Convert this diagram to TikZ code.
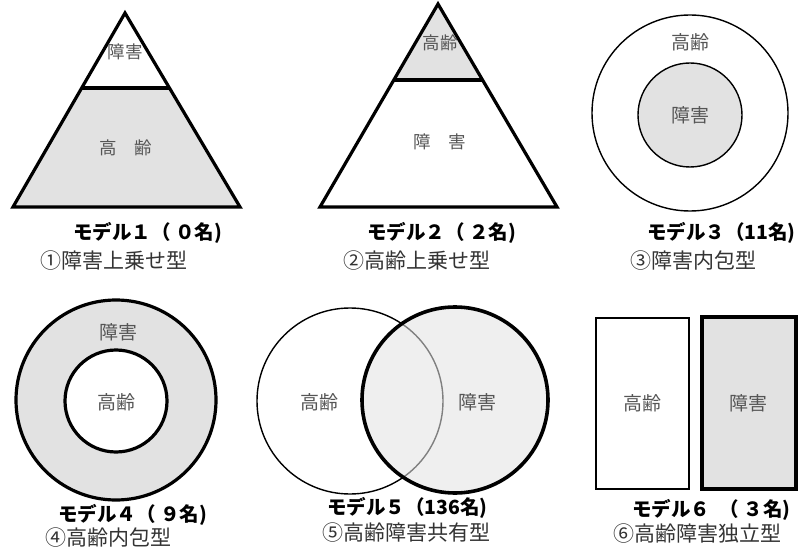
\documentclass[tikz,border=0pt]{standalone}
\usepackage{fontspec}
\usetikzlibrary{calc}
\setmainfont{Noto Sans CJK JP}
\definecolor{fillg}{HTML}{E2E2E2}
\definecolor{filll}{HTML}{EFEFEF}
\definecolor{intext}{HTML}{555555}
\definecolor{subc}{HTML}{333333}
\begin{document}
\begin{tikzpicture}[x=1pt,y=-1pt,
  thickline/.style={line width=3.2pt,line join=miter},
  thinline/.style={line width=1.4pt},
  inlabel/.style={text=intext,font=\fontsize{19}{19}\selectfont,inner sep=0pt},
  trilabel/.style={text=intext,font=\fontsize{17.5}{17.5}\selectfont,inner sep=0pt},
  title/.style={font=\bfseries\fontsize{19.5}{19.5}\selectfont,anchor=west,inner sep=0pt},
  subtitle/.style={font=\fontsize{21}{21}\selectfont,text=subc,anchor=west,inner sep=0pt}]
\useasboundingbox[fill=white] (0,0) rectangle (800,553);
% ---------- Model 1 ----------
\coordinate (a1) at (125,13);
\coordinate (l1) at (13,207);
\coordinate (r1) at (240,207);
\coordinate (dl1) at ($(a1)!0.3866!(l1)$);
\coordinate (dr1) at ($(a1)!0.3866!(r1)$);
\fill[fillg] (dl1) -- (dr1) -- (r1) -- (l1) -- cycle;
\draw[thickline] (a1) -- (r1) -- (l1) -- cycle;
\draw[thickline] (dl1) -- (dr1);
\node[trilabel] (t1a) at (125,52) {障害};
\node[trilabel] (t1b) at (126,148) {高\hspace{1em}齢};
% ---------- Model 2 ----------
\coordinate (a2) at (438,4);
\coordinate (l2) at (320,207);
\coordinate (r2) at (557,207);
\coordinate (dl2) at ($(a2)!0.374!(l2)$);
\coordinate (dr2) at ($(a2)!0.374!(r2)$);
\fill[fillg] (a2) -- (dr2) -- (dl2) -- cycle;
\draw[thickline] (a2) -- (r2) -- (l2) -- cycle;
\draw[thickline] (dl2) -- (dr2);
\node[trilabel] (t2a) at (440,43) {高齢};
\node[trilabel] (t2b) at (440,142) {障\hspace{1em}害};
% ---------- Model 3 ----------
\draw[thinline] (690,113) circle[radius=98];
\draw[thinline,fill=fillg] (690,115) circle[radius=52];
\node[inlabel] (t3a) at (690,42) {高齢};
\node[inlabel] (t3b) at (690,115) {障害};
% ---------- Model 4 ----------
\draw[thickline,fill=fillg] (116,400) circle[radius=100];
\draw[thickline,fill=white] (116,401) circle[radius=51];
\node[inlabel] (t4a) at (118,332) {障害};
\node[inlabel] (t4b) at (116,402) {高齢};
% ---------- Model 5 ----------
\draw[thinline] (350,401) circle[radius=93];
\fill[filll] (455,400) circle[radius=93];
\begin{scope}
  \clip (455,400) circle[radius=93];
  \draw[thinline,gray] (350,401) circle[radius=93];
\end{scope}
\draw[line width=3.6pt] (455,400) circle[radius=93];
\node[inlabel] (t5a) at (319,402) {高齢};
\node[inlabel] (t5b) at (477,402) {障害};
% ---------- Model 6 ----------
\draw[thinline] (596,318) rectangle (689,489);
\draw[thickline,fill=fillg] (702,317) rectangle (796,489);
\node[inlabel] (t6a) at (642,403) {高齢};
\node[inlabel] (t6b) at (748,403) {障害};
% ---------- captions ----------
\node[title] (c1) at (73,233) {モデル１（ ０名)};
\node[subtitle] (s1) at (40,261) {①障害上乗せ型};
\node[title] (c2) at (367,233) {モデル２（ ２名)};
\node[subtitle] (s2) at (343,261) {②高齢上乗せ型};
\node[title] (c3) at (647,233) {モデル３（11名)};
\node[subtitle] (s3) at (630,261) {③障害内包型};
\node[title] (c4) at (58,515) {モデル４（ ９名)};
\node[subtitle] (s4) at (45,538) {④高齢内包型};
\node[title] (c5) at (327,508) {モデル５（136名)};
\node[subtitle] (s5) at (322,533) {⑤高齢障害共有型};
\node[title] (c6) at (632,510) {モデル６\hspace{0.5em}（ ３名)};
\node[subtitle] (s6) at (613,534) {⑥高齢障害独立型};
\end{tikzpicture}
\end{document}
